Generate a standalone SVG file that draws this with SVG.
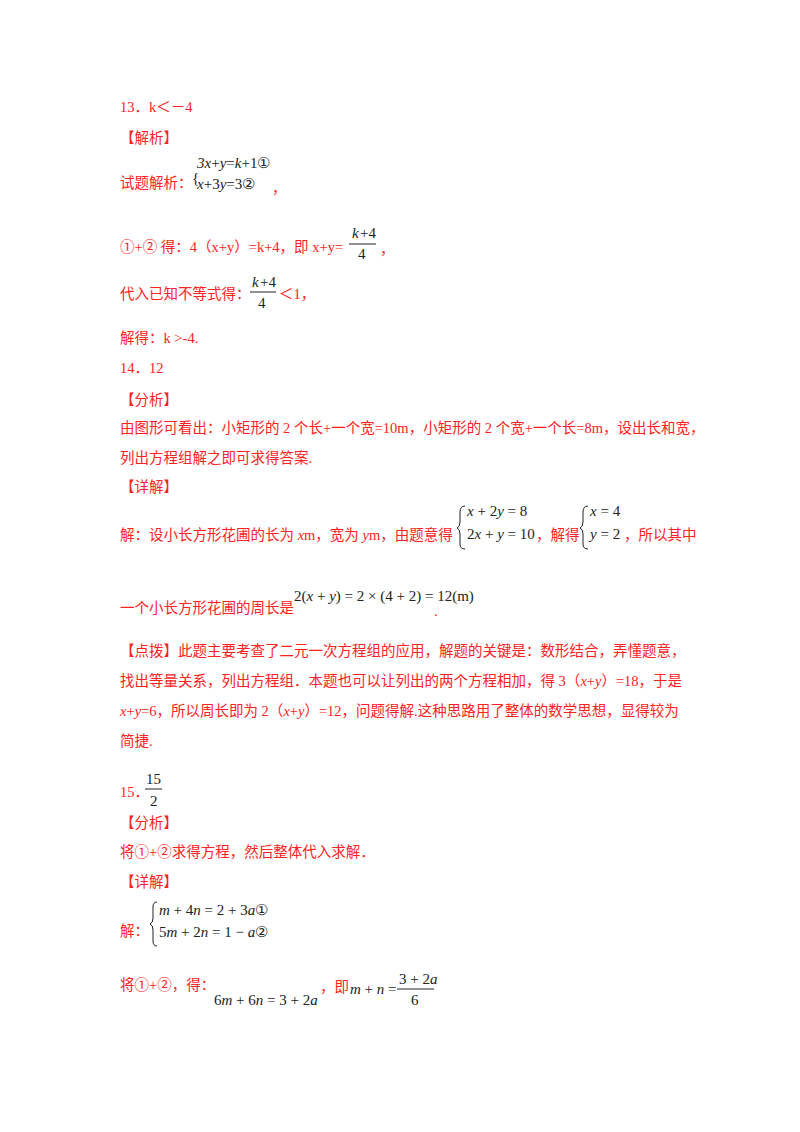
<svg xmlns="http://www.w3.org/2000/svg" width="800" height="1132" viewBox="0 0 800 1132">
<style>
.r{font-family:"Liberation Serif","Noto Sans CJK SC",serif;font-size:14.5px;fill:#f22}
.m{font-family:"Liberation Serif",serif;font-size:15px;fill:#222}
.i{font-style:italic}
.l{stroke:#222;stroke-width:1;fill:none}
</style>
<rect width="800" height="1132" fill="#fff"/>
<text class="r" x="120" y="112">13．k＜－4</text>
<text class="r" x="120" y="143">【解析】</text>
<text class="r" x="120" y="188">试题解析：</text>
<text class="m" x="192" y="183" font-size="13">{</text>
<text class="m" x="197" y="168" font-size="14"><tspan class="i">3x</tspan>+<tspan class="i">y</tspan>=<tspan class="i">k</tspan>+1①</text>
<text class="m" x="197" y="189" font-size="14"><tspan class="i">x</tspan>+3<tspan class="i">y</tspan>=3②</text>
<text class="r" x="272" y="193">，</text>
<text class="r" x="120" y="252">①+② 得：4（x+y）=k+4，即 x+y=</text>
<text class="m i" x="352" y="238" font-size="14">k</text><text class="m" x="360" y="238" font-size="14">+4</text>
<line class="l" x1="349" y1="244" x2="376" y2="244"/>
<text class="m" x="358" y="259" font-size="14">4</text>
<text class="r" x="380" y="254">，</text>
<text class="r" x="120" y="299">代入已知不等式得：</text>
<text class="m i" x="252" y="287" font-size="14">k</text><text class="m" x="260" y="287" font-size="14">+4</text>
<line class="l" x1="250" y1="292" x2="276" y2="292"/>
<text class="m" x="258" y="308" font-size="14">4</text>
<text class="r" x="279" y="299">＜1，</text>
<text class="r" x="120" y="343">解得：k &gt;-4.</text>
<text class="r" x="120" y="373">14．12</text>
<text class="r" x="120" y="405">【分析】</text>
<text class="r" x="120" y="433">由图形可看出：小矩形的 2 个长+一个宽=10m，小矩形的 2 个宽+一个长=8m，设出长和宽，</text>
<text class="r" x="120" y="463">列出方程组解之即可求得答案.</text>
<text class="r" x="120" y="492">【详解】</text>
<text class="r" x="120" y="540" font-size="13.5">解：设小长方形花圃的长为 <tspan font-style="italic">x</tspan>m，宽为 <tspan font-style="italic">y</tspan>m，由题意得</text>
<path class="l" d="M 465 506 Q 460 506 460 512 L 460 522 Q 460 527 457 528 Q 460 529 460 534 L 460 544 Q 460 549 465 549"/>
<text class="m" x="467" y="516"><tspan class="i">x</tspan> + 2<tspan class="i">y</tspan> = 8</text>
<text class="m" x="467" y="539">2<tspan class="i">x</tspan> + <tspan class="i">y</tspan> = 10</text>
<text class="r" x="536" y="540">，解得</text>
<path class="l" d="M 588 506 Q 583 506 583 512 L 583 522 Q 583 527 580 528 Q 583 529 583 534 L 583 544 Q 583 549 588 549"/>
<text class="m" x="590" y="516"><tspan class="i">x</tspan> = 4</text>
<text class="m" x="590" y="539"><tspan class="i">y</tspan> = 2</text>
<text class="r" x="624" y="540">，所以其中</text>
<text class="r" x="120" y="613">一个小长方形花圃的周长是</text>
<text class="m" x="294" y="601">2(<tspan class="i">x</tspan> + <tspan class="i">y</tspan>) = 2 × (4 + 2) = 12(m)</text>
<text class="r" x="434" y="616">.</text>
<text class="r" x="120" y="656">【点拨】此题主要考查了二元一次方程组的应用，解题的关键是：数形结合，弄懂题意，</text>
<text class="r" x="120" y="686">找出等量关系，列出方程组．本题也可以让列出的两个方程相加，得 3（<tspan font-style="italic">x</tspan>+<tspan font-style="italic">y</tspan>）=18，于是</text>
<text class="r" x="120" y="716"><tspan font-style="italic">x</tspan>+<tspan font-style="italic">y</tspan>=6，所以周长即为 2（<tspan font-style="italic">x</tspan>+<tspan font-style="italic">y</tspan>）=12，问题得解.这种思路用了整体的数学思想，显得较为</text>
<text class="r" x="120" y="746">简捷.</text>
<text class="r" x="120" y="797">15．</text>
<text class="m" x="146" y="784" font-size="14">15</text>
<line class="l" x1="145" y1="789" x2="162" y2="789"/>
<text class="m" x="150" y="806" font-size="14">2</text>
<text class="r" x="120" y="828">【分析】</text>
<text class="r" x="120" y="857">将①+②求得方程，然后整体代入求解．</text>
<text class="r" x="120" y="887">【详解】</text>
<text class="r" x="120" y="936">解：</text>
<path class="l" d="M 157 902 Q 153 902 153 907 L 153 918 Q 153 923 150 924 Q 153 925 153 930 L 153 941 Q 153 946 157 946"/>
<text class="m" x="159" y="915"><tspan class="i">m</tspan> + 4<tspan class="i">n</tspan> = 2 + 3<tspan class="i">a</tspan>①</text>
<text class="m" x="159" y="937">5<tspan class="i">m</tspan> + 2<tspan class="i">n</tspan> = 1 − <tspan class="i">a</tspan>②</text>
<text class="r" x="120" y="990">将①+②，得：</text>
<text class="m" x="214" y="1005">6<tspan class="i">m</tspan> + 6<tspan class="i">n</tspan> = 3 + 2<tspan class="i">a</tspan></text>
<text class="r" x="320" y="992">，即</text>
<text class="m" x="350" y="994"><tspan class="i">m</tspan> + <tspan class="i">n</tspan> =</text>
<text class="m" x="399" y="984">3 + 2<tspan class="i">a</tspan></text>
<line class="l" x1="397" y1="989" x2="434" y2="989"/>
<text class="m" x="411" y="1005">6</text>
</svg>
